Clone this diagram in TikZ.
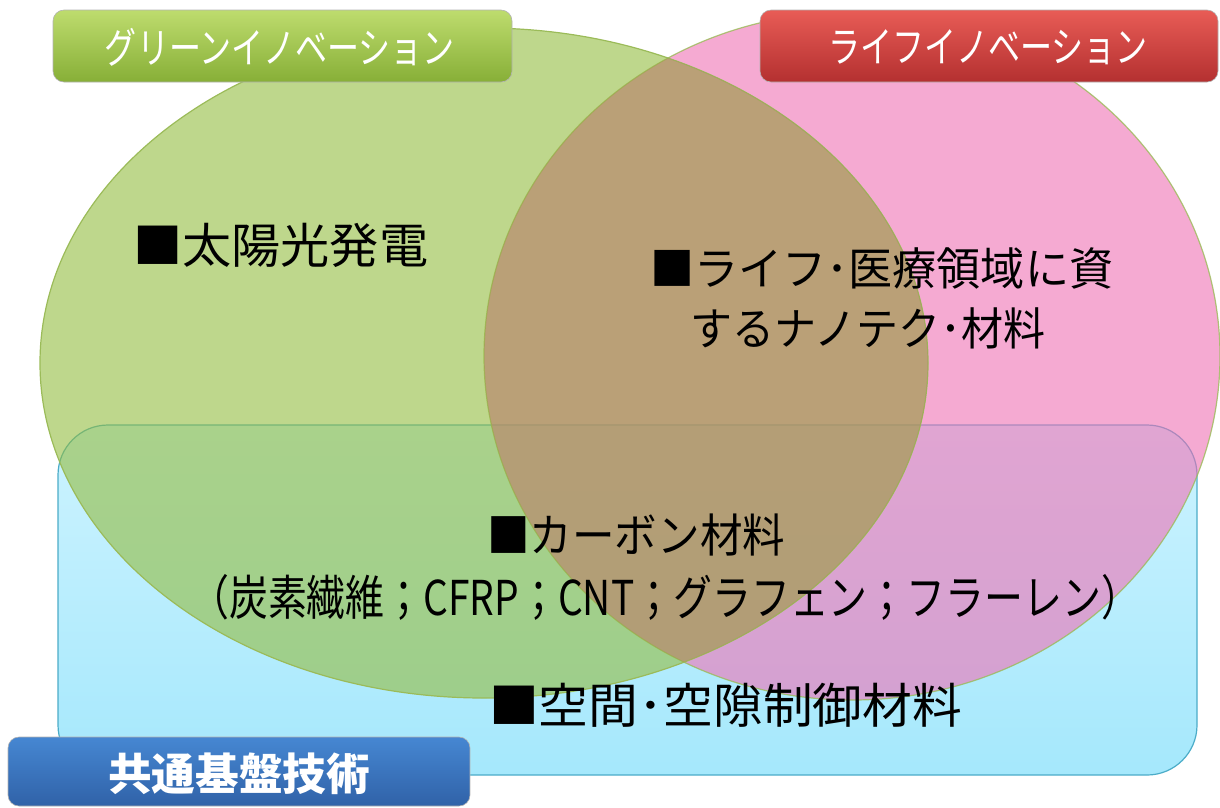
\documentclass[tikz,border=0pt]{standalone}
\usepackage{fontspec}
\usepackage{graphicx}
\setmainfont{Noto Sans CJK JP}
\definecolor{bluefillT}{RGB}{205,243,255}
\definecolor{bluefillB}{RGB}{165,232,252}
\definecolor{blueline}{RGB}{75,172,200}
\definecolor{greenfill}{RGB}{147,188,63}
\definecolor{pinkfill}{RGB}{238,113,180}
\definecolor{olive}{RGB}{155,187,89}
\definecolor{brownish}{RGB}{190,100,110}
\definecolor{glabT}{RGB}{190,220,110}
\definecolor{glabB}{RGB}{135,175,55}
\definecolor{rlabT}{RGB}{232,92,86}
\definecolor{rlabB}{RGB}{180,48,48}
\definecolor{blabT}{RGB}{70,135,210}
\definecolor{blabB}{RGB}{48,98,168}
\tikzset{
  labelbox/.style={rounded corners=11pt, draw=white!70!black, line width=0.6pt},
  labeltext/.style={text=white, inner sep=0pt},
  bodytext/.style={text=black, inner sep=0pt, anchor=west},
}
\begin{document}
\begin{tikzpicture}[x=1pt,y=-1pt]
\useasboundingbox (0,0) rectangle (1220,807);
% common base region
\path[top color=bluefillT, bottom color=bluefillB, draw=blueline, line width=1.2pt, rounded corners=50pt]
  (58,425) rectangle (1197,775);
% life ellipse
\path[fill=pinkfill, fill opacity=0.6, draw=olive, draw opacity=0.8, line width=1.2pt]
  (852,356) ellipse [x radius=368, y radius=344];
% green ellipse
\path[fill=greenfill, fill opacity=0.6, draw=olive, line width=1.2pt]
  (484,363) ellipse [x radius=444, y radius=335];
% intersection tint
\begin{scope}
  \clip (484,363) ellipse [x radius=444, y radius=335];
  \fill[brownish, opacity=0.25] (852,356) ellipse [x radius=368, y radius=344];
\end{scope}
% header labels
\path[labelbox, top color=glabT, bottom color=glabB] (53,10) rectangle (512,82);
\node[labeltext] (green) at (280,47) {\resizebox{350pt}{\height}{\fontsize{42}{46}\selectfont グリーンイノベーション}};
\path[labelbox, top color=rlabT, bottom color=rlabB] (760,10) rectangle (1218,82);
\node[labeltext] (life) at (988,47) {\resizebox{320pt}{\height}{\fontsize{42}{46}\selectfont ライフイノベーション}};
\path[labelbox, top color=blabT, bottom color=blabB] (8,737) rectangle (470,806);
\node[labeltext] (base) at (239,774) {\resizebox{262pt}{\height}{\fontsize{44}{48}\selectfont\bfseries 共通基盤技術}};
% body texts
\node[bodytext] (solar) at (133,245) {\resizebox{295pt}{\height}{\fontsize{48}{52}\selectfont ■太陽光発電}};
\node[bodytext] (nano1) at (650,268) {\resizebox{463pt}{\height}{\fontsize{45}{50}\selectfont ■ライフ･医療領域に資}};
\node[bodytext] (nano2) at (690,328) {\resizebox{355pt}{\height}{\fontsize{45}{50}\selectfont するナノテク･材料}};
\node[bodytext] (carbon) at (487,535) {\resizebox{298pt}{\height}{\fontsize{46}{50}\selectfont ■カーボン材料}};
\node[bodytext] (carbon2) at (190,597) {\resizebox{950pt}{\height}{\fontsize{48}{52}\selectfont （炭素繊維；CFRP；CNT；グラフェン；フラーレン）}};
\node[bodytext] (space) at (489,705) {\resizebox{473pt}{\height}{\fontsize{48}{52}\selectfont ■空間･空隙制御材料}};
\end{tikzpicture}
\end{document}
